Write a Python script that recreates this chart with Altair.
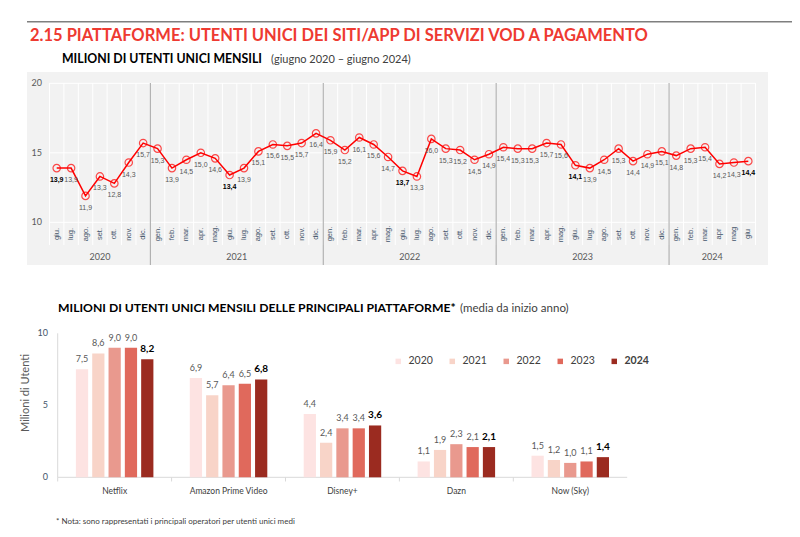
import altair as alt
import pandas as pd

# ---------------- data ----------------
months = ["giu.", "lug.", "ago.", "set.", "ott.", "nov.", "dic.",
          "gen.", "feb.", "mar.", "apr.", "mag.", "giu.", "lug.", "ago.", "set.", "ott.", "nov.", "dic.",
          "gen.", "feb.", "mar.", "apr.", "mag.", "giu.", "lug.", "ago.", "set.", "ott.", "nov.", "dic.",
          "gen.", "feb.", "mar.", "apr.", "mag.", "giu.", "lug.", "ago.", "set.", "ott.", "nov.", "dic.",
          "gen.", "feb.", "mar.", "apr", "mag", "giu"]
month_years = ["2020"] * 7 + ["2021"] * 12 + ["2022"] * 12 + ["2023"] * 12 + ["2024"] * 6
users = [13.9, 13.9, 11.9, 13.3, 12.8, 14.3, 15.7,
         15.3, 13.9, 14.5, 15.0, 14.6, 13.4, 13.9, 15.1, 15.6, 15.5, 15.7, 16.4,
         15.9, 15.2, 16.1, 15.6, 14.7, 13.7, 13.3, 16.0, 15.3, 15.2, 14.5, 14.9,
         15.4, 15.3, 15.3, 15.7, 15.6, 14.1, 13.9, 14.5, 15.3, 14.4, 14.9, 15.1,
         14.8, 15.3, 15.4, 14.2, 14.3, 14.4]
top_ticks = [10, 15, 20]

platforms = ["Netflix", "Amazon Prime Video", "Disney+", "Dazn", "Now (Sky)"]
bar_years = ["2020", "2021", "2022", "2023", "2024"]
bar_values = {
    "2020": [7.5, 6.9, 4.4, 1.1, 1.5],
    "2021": [8.6, 5.7, 2.4, 1.9, 1.2],
    "2022": [9.0, 6.4, 3.4, 2.3, 1.0],
    "2023": [9.0, 6.5, 3.4, 2.1, 1.1],
    "2024": [8.2, 6.8, 3.6, 2.1, 1.4],
}
bar_colors = ["#fde3e2", "#f8d4c8", "#e9998e", "#e0695c", "#9b2b20"]
bar_ticks = [0, 5, 10]

# ---------------- tables ----------------
top_df = pd.DataFrame({"idx": list(range(len(users))), "m": months, "yr": month_years, "v": users})
bounds_df = pd.DataFrame({"b": [i - 0.5 for i in range(len(users) + 1)]})
sep_df = pd.DataFrame({"b": [i + 0.5 for i in range(len(users) - 1) if month_years[i] != month_years[i + 1]]})
ttick_df = pd.DataFrame({"t": top_ticks})

rows = []
for y in bar_years:
    for p, v in zip(platforms, bar_values[y]):
        rows.append({"platform": p, "year": y, "value": v})
bar_df = pd.DataFrame(rows)
plat_df = pd.DataFrame({"platform": platforms})
btick_df = pd.DataFrame({"t": bar_ticks})
one = pd.DataFrame({"a": [0]})

FONT = "Lato"
SMALL = "Liberation Sans"
GREY = "#595959"
SLATE = "#44546a"

# ---------------- top chart scales ----------------
XT = alt.Scale(domain=[0, 48], range=[48.7, 740.3])
YT = alt.Scale(domain=[10, 20], range=[214.3, 75.3])


def xt(f="idx"):
    return alt.X(f + ":Q", scale=XT, axis=None)


def yt(f="v"):
    return alt.Y(f + ":Q", scale=YT, axis=None)


fmt = "replace(format(datum.v, '.1f'), '.', ',')"
is_june = "indexof(datum.m, 'giu') == 0"

panel = alt.Chart(one).mark_rect(color="#f2f2f2").encode(
    x=alt.value(19), x2=alt.value(760), y=alt.value(64), y2=alt.value(257))
vgrid = alt.Chart(bounds_df).mark_rule(color="#ffffff", strokeWidth=1).encode(
    x=xt("b"), y=alt.value(75), y2=alt.value(237))
hgrid = alt.Chart(ttick_df).mark_rule(color="#ffffff", strokeWidth=1).encode(
    y=yt("t"), x=alt.value(41.5), x2=alt.value(747.5))
seps = alt.Chart(sep_df).mark_rule(color="#a6a6a6", strokeWidth=1).encode(
    x=xt("b"), y=alt.value(75), y2=alt.value(257))
line = alt.Chart(top_df).mark_line(color="#ff0000", strokeWidth=1.5).encode(x=xt(), y=yt())
pts = alt.Chart(top_df).mark_point(shape="circle", filled=False, color="#ff0000", size=55,
                                   strokeWidth=1.2).encode(x=xt(), y=yt())
lbl = alt.Chart(top_df).transform_filter("!(" + is_june + ")").transform_calculate(lbl=fmt).mark_text(
    font=SMALL, fontSize=7, color=GREY, dy=12).encode(x=xt(), y=yt(), text="lbl:N")
lbl_b = alt.Chart(top_df).transform_filter(is_june).transform_calculate(lbl=fmt).mark_text(
    font=SMALL, fontSize=7, fontWeight="bold", color="#000000", dy=12).encode(x=xt(), y=yt(), text="lbl:N")
mlab = alt.Chart(top_df).mark_text(font=SMALL, fontSize=7.5, color=SLATE, angle=270,
                                   align="center", baseline="middle").encode(
    x=xt(), y=alt.value(226), text="m:N")
ylab = alt.Chart(top_df).mark_text(font=FONT, fontSize=9, color=GREY).encode(
    x=alt.X("mid:Q", scale=XT, axis=None), y=alt.value(249), text="yr:N"
).transform_aggregate(mid="mean(idx)", groupby=["yr"])
tticks = alt.Chart(ttick_df).mark_text(font=FONT, fontSize=9, color=GREY, align="right",
                                       baseline="middle").encode(
    x=alt.value(34), y=yt("t"), text="t:N")

top = alt.layer(panel, vgrid, hgrid, seps, line, pts, lbl, lbl_b, mlab, ylab, tticks)

# ---------------- bottom chart ----------------
BX = alt.Scale(domain=platforms, range=[49.7, 619.2], paddingInner=0, paddingOuter=0)
BY = alt.Scale(domain=[0, 10], range=[469.3, 325.3])
XO = alt.Scale(domain=bar_years, range=[18.2, 95.7], paddingInner=0.25, paddingOuter=0)
CS = alt.Scale(domain=bar_years, range=bar_colors)

bx = alt.X("platform:N", scale=BX, axis=None, sort=platforms)
by = alt.Y("value:Q", scale=BY, axis=None)
bxo = alt.XOffset("year:N", scale=XO, sort=bar_years)

bars = alt.Chart(bar_df).mark_bar().encode(
    x=bx, xOffset=bxo, y=by,
    color=alt.Color("year:N", scale=CS, sort=bar_years, legend=alt.Legend(
        orient="none", legendX=385, legendY=348, direction="horizontal", title=None,
        symbolType="square", symbolSize=30, symbolStrokeWidth=0, labelFont=FONT,
        labelFontSize=10.5, labelColor="#404040", columnPadding=14, labelOffset=5,
        labelFontWeight=alt.ExprRef("datum.label == '2024' ? 'bold' : 'normal'"))))
bfmt = "replace(format(datum.value, '.1f'), '.', ',')"
blbl = alt.Chart(bar_df).transform_filter("datum.year != '2024'").transform_calculate(lbl=bfmt).mark_text(
    font=FONT, fontSize=9, color=GREY, baseline="bottom", dy=-5).encode(
    x=bx, xOffset=bxo, y=by, text="lbl:N")
blbl_b = alt.Chart(bar_df).transform_filter("datum.year == '2024'").transform_calculate(lbl=bfmt).mark_text(
    font=FONT, fontSize=10, fontWeight="bold", color="#000000", baseline="bottom", dy=-5).encode(
    x=bx, xOffset=bxo, y=by, text="lbl:N")
cats = alt.Chart(plat_df).mark_text(font=FONT, fontSize=8.5, color="#404040", baseline="middle").encode(
    x=bx, y=alt.value(483), text="platform:N")
cticks = alt.Chart(plat_df).mark_rule(color="#d9d9d9").encode(
    x=alt.X("platform:N", scale=BX, axis=None, sort=platforms, bandPosition=0),
    y=alt.value(469.3), y2=alt.value(473.5))
yline = alt.Chart(one).mark_rule(color="#d9d9d9").encode(
    x=alt.value(49.7), y=alt.value(325.3), y2=alt.value(469.3))
xline = alt.Chart(one).mark_rule(color="#d9d9d9").encode(
    x=alt.value(49.7), x2=alt.value(619.2), y=alt.value(469.3))
bticks = alt.Chart(btick_df).mark_text(font=FONT, fontSize=9, color=SLATE, align="right",
                                       baseline="middle").encode(
    x=alt.value(40), y=alt.Y("t:Q", scale=BY, axis=None), text="t:N")

bottom = alt.layer(yline, xline, cticks, bars, blbl, blbl_b, cats, bticks)

# ---------------- texts ----------------
def txt(s, x, y, size, color="#000000", weight="normal", angle=0, align="left", baseline="alphabetic"):
    return alt.Chart(one).mark_text(text=s, font=FONT, fontSize=size, color=color, fontWeight=weight,
                                    angle=angle, align=align, baseline=baseline).encode(
        x=alt.value(x), y=alt.value(y))


headline = alt.Chart(one).mark_rule(color="#7f7f7f", strokeWidth=1.5).encode(
    x=alt.value(19), x2=alt.value(800), y=alt.value(13.7))

texts = alt.layer(
    headline,
    txt("2.15 PIATTAFORME: UTENTI UNICI DEI SITI/APP DI SERVIZI VOD A PAGAMENTO", 22, 33, 16.5,
        color="#ee3a31", weight="bold"),
    txt("MILIONI DI UTENTI UNICI MENSILI", 54, 55, 12.3, weight="bold"),
    txt("(giugno 2020 \u2013 giugno 2024)", 263, 55, 11, color="#404040"),
    txt("MILIONI DI UTENTI UNICI MENSILI DELLE PRINCIPALI PIATTAFORME*", 50, 304, 12.2, weight="bold"),
    txt("(media da inizio anno)", 452, 304, 11.5, color="#404040"),
    txt("Milioni di Utenti", 18, 385, 11, color=GREY, angle=270, align="center", baseline="middle"),
    txt("* Nota: sono rappresentati i principali operatori per utenti unici medi", 48, 514, 8,
        color="#404040", baseline="middle"),
)

chart = alt.layer(top, bottom, texts).resolve_scale(
    x="independent", y="independent"
).properties(
    width=784, height=521, padding=0, autosize=alt.AutoSizeParams(type="none"),
    background="#ffffff"
).configure_view(stroke=None)

chart.save("out.html", embed_options={"renderer": "svg", "actions": False})
